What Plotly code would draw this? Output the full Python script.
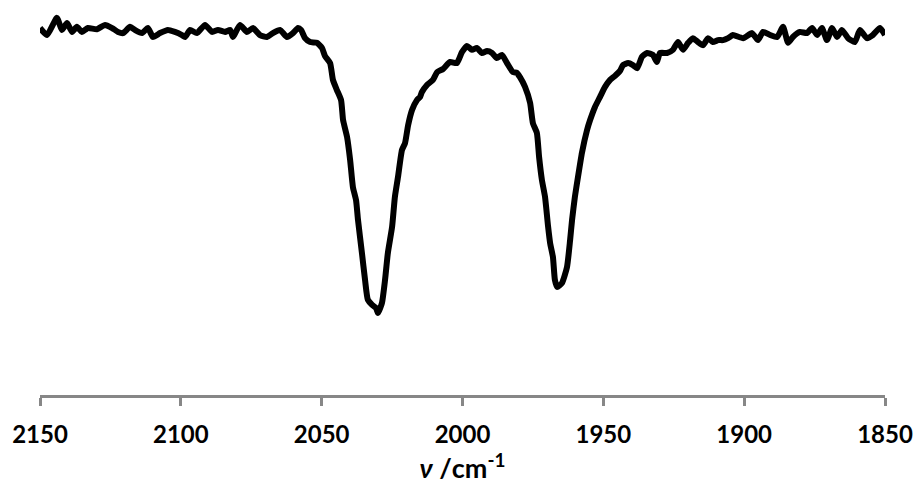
import plotly.graph_objects as go

# Wavenumber (cm^-1) and transmittance (%)
wavenumber = [
    2150.0, 2147.5, 2144.0, 2142.2, 2140.4, 2138.6, 2136.9, 2135.1, 2133.0, 2129.8,
    2126.9, 2124.4, 2122.3, 2120.5, 2118.0, 2116.3, 2113.8, 2111.7, 2109.9, 2107.4,
    2104.6, 2102.1, 2099.6, 2098.5, 2096.7, 2094.3, 2091.4, 2088.9, 2086.8, 2084.3,
    2082.5, 2081.5, 2079.0, 2076.5, 2074.4, 2071.9, 2069.4, 2067.3, 2064.8, 2062.3,
    2060.2, 2058.4, 2057.3, 2055.9, 2054.1, 2051.7, 2049.9, 2048.8, 2047.0, 2046.0,
    2044.6, 2043.1, 2042.4, 2041.0, 2039.9, 2038.9, 2037.8, 2037.1, 2035.7, 2034.6,
    2033.6, 2032.1, 2030.7, 2030.0, 2028.6, 2027.5, 2026.5, 2025.0, 2024.0, 2022.9,
    2021.5, 2020.4, 2019.3, 2017.9, 2016.2, 2015.1, 2014.4, 2012.6, 2010.5, 2009.0,
    2006.9, 2004.4, 2002.0, 2000.2, 1998.4, 1996.6, 1994.9, 1993.1, 1991.3, 1989.5,
    1987.8, 1986.0, 1984.2, 1982.1, 1980.7, 1979.6, 1977.8, 1976.0, 1975.0, 1973.6,
    1972.8, 1971.8, 1970.7, 1969.6, 1968.9, 1967.9, 1967.2, 1966.4, 1964.7, 1962.9,
    1961.8, 1961.1, 1960.1, 1959.0, 1957.6, 1955.8, 1954.7, 1953.0, 1951.2, 1949.4,
    1947.6, 1945.9, 1944.1, 1943.0, 1941.2, 1939.5, 1938.0, 1936.3, 1934.5, 1932.4,
    1931.0, 1929.9, 1927.4, 1925.3, 1923.5, 1921.7, 1919.9, 1918.2, 1916.4, 1914.6,
    1912.8, 1911.1, 1909.3, 1907.5, 1905.7, 1904.0, 1900.4, 1897.2, 1895.1, 1893.3,
    1890.8, 1888.3, 1886.2, 1884.4, 1882.7, 1880.2, 1877.7, 1875.9, 1874.1, 1872.4,
    1870.6, 1868.8, 1867.0, 1865.3, 1863.1, 1860.7, 1858.9, 1856.4, 1854.3, 1851.8,
    1850.0,
]
transmittance = [
    94.1, 92.3, 96.7, 93.6, 95.4, 93.1, 94.4, 93.1, 94.1, 93.8,
    94.9, 94.1, 93.1, 92.8, 94.4, 93.6, 92.8, 94.1, 91.8, 92.8,
    93.6, 93.1, 92.3, 91.8, 93.6, 92.8, 94.9, 93.1, 93.6, 93.1,
    93.6, 91.8, 94.9, 93.1, 94.1, 92.3, 91.8, 92.8, 93.6, 91.8,
    92.8, 94.1, 93.6, 91.5, 90.5, 90.3, 89.0, 86.9, 85.1, 80.8,
    78.2, 75.6, 70.5, 66.2, 60.3, 53.3, 50.0, 44.9, 36.4, 29.5,
    24.4, 23.1, 22.3, 21.0, 23.6, 29.5, 36.4, 43.1, 50.8, 55.9,
    62.8, 64.6, 69.2, 73.1, 75.6, 76.4, 77.7, 79.5, 80.8, 82.8,
    83.6, 85.4, 85.1, 87.9, 89.5, 88.5, 89.0, 87.7, 88.2, 87.7,
    86.4, 87.2, 85.1, 82.8, 82.6, 81.5, 79.0, 74.9, 69.7, 67.2,
    61.0, 55.1, 50.8, 43.1, 39.0, 35.4, 29.5, 27.7, 28.7, 32.8,
    39.7, 44.9, 50.8, 55.9, 62.1, 67.9, 70.5, 73.8, 76.4, 79.0,
    80.8, 81.8, 83.1, 84.6, 85.1, 84.6, 83.8, 86.7, 87.7, 87.2,
    85.4, 87.7, 87.7, 88.5, 90.5, 88.5, 90.3, 91.5, 90.5, 89.7,
    91.5, 90.5, 91.0, 91.0, 91.5, 92.3, 91.5, 92.8, 91.0, 93.1,
    92.3, 91.8, 94.4, 90.3, 91.8, 93.1, 92.8, 94.1, 92.3, 94.1,
    91.0, 94.1, 91.8, 93.6, 91.5, 90.5, 93.6, 91.5, 92.3, 94.1,
    92.3,
]
x_ticks = [2150, 2100, 2050, 2000, 1950, 1900, 1850]
x_range = [2150, 1850]
y_range = [0, 100]

fig = go.Figure()
fig.add_trace(go.Scatter(
    x=wavenumber, y=transmittance, mode="lines",
    line=dict(color="black", width=6, shape="spline", smoothing=0.5),
    showlegend=False, hoverinfo="skip",
))

fig.update_layout(
    width=919, height=493,
    margin=dict(l=40, r=34, t=5, b=98),
    paper_bgcolor="white", plot_bgcolor="white",
    font=dict(family="Lato, 'Open Sans', sans-serif", color="black"),
)
fig.update_xaxes(
    range=x_range, tickvals=x_ticks, ticktext=[str(t) for t in x_ticks],
    showgrid=False, zeroline=False,
    showline=True, linecolor="#878787", linewidth=3,
    ticks="outside", tickcolor="#878787", tickwidth=3, ticklen=8,
    tickfont=dict(size=24, weight="bold", color="black"),
    ticklabelstandoff=8,
    title=dict(text="<b><i>ν</i> /cm<sup>-1</sup></b>", font=dict(size=27, color="black"), standoff=10),
)
fig.update_yaxes(range=y_range, visible=False, showgrid=False, zeroline=False)

fig.write_html("out.html")
